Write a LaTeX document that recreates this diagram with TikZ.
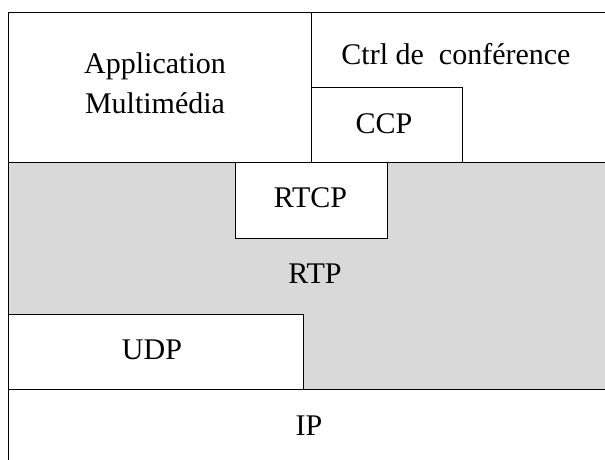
\documentclass[tikz,border=0pt]{standalone}
\usepackage{fontspec}
\setmainfont{Liberation Serif}
\definecolor{rtpgrey}{HTML}{D9D9D9}
\begin{document}
\begin{tikzpicture}[x=1pt,y=-1pt,
  layer/.style={draw=black, line width=1pt, inner sep=0pt, anchor=north west},
  label/.style={anchor=base, inner sep=0pt, font=\fontsize{30}{40}\selectfont, align=center}]
\useasboundingbox (0,0) rectangle (605,459);
% RTP grey layer
\node[layer, fill=rtpgrey, minimum width=607pt, minimum height=227pt] (rtp) at (8,162) {};
% IP layer
\node[layer, fill=white, minimum width=607pt, minimum height=90pt] (ip) at (8,389) {};
% UDP
\node[layer, fill=white, minimum width=295pt, minimum height=75pt] (udp) at (8,314) {};
% Application
\node[layer, fill=white, minimum width=303pt, minimum height=150pt] (app) at (8,12) {};
% Ctrl de conference
\node[layer, fill=white, minimum width=304pt, minimum height=150pt] (ctrl) at (311,12) {};
% CCP
\node[layer, fill=white, minimum width=151pt, minimum height=75pt] (ccp) at (311,87) {};
% RTCP
\node[layer, fill=white, minimum width=152pt, minimum height=76pt] (rtcp) at (235,162) {};
% texts
\node[label] (tapp) at (155,113.3) {Application\\Multimédia};
\node[label] (tctrl) at (456,64) {Ctrl de\ \ conférence};
\node[label] (tccp) at (384,133) {CCP};
\node[label] (trtcp) at (310.5,207.7) {RTCP};
\node[label] (trtp) at (315,283.3) {RTP};
\node[label] (tudp) at (152,359.3) {UDP};
\node[label] (tip) at (309,435) {IP};
\end{tikzpicture}
\end{document}
